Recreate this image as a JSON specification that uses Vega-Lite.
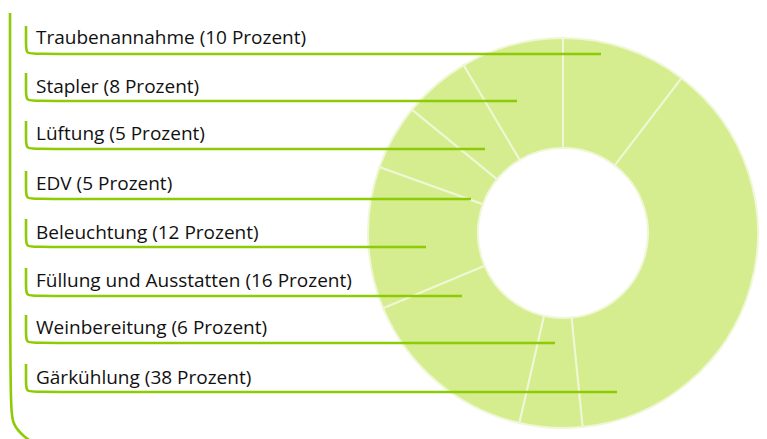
{
  "$schema": "https://vega.github.io/schema/vega-lite/v6.json",
  "width": 767,
  "height": 439,
  "autosize": {"type": "fit", "contains": "padding"},
  "padding": 0,
  "background": "white",
  "config": {"view": {"stroke": null}},
  "datasets": {
    "slices": [
      {"kategorie": "Traubenannahme", "anteil": 10.4, "o": 1},
      {"kategorie": "Gärkühlung", "anteil": 38.0, "o": 2},
      {"kategorie": "Weinbereitung", "anteil": 5.2, "o": 3},
      {"kategorie": "Füllung und Ausstatten", "anteil": 15.1, "o": 4},
      {"kategorie": "Beleuchtung", "anteil": 11.8, "o": 5},
      {"kategorie": "EDV", "anteil": 5.4, "o": 6},
      {"kategorie": "Lüftung", "anteil": 5.6, "o": 7},
      {"kategorie": "Stapler", "anteil": 8.5, "o": 8}
    ],
    "labels": [
      {"text": "Traubenannahme (10 Prozent)", "x": 36, "y": 44},
      {"text": "Stapler (8 Prozent)", "x": 36, "y": 93},
      {"text": "Lüftung (5 Prozent)", "x": 36, "y": 140},
      {"text": "EDV (5 Prozent)", "x": 36, "y": 190},
      {"text": "Beleuchtung (12 Prozent)", "x": 36, "y": 239},
      {"text": "Füllung und Ausstatten (16 Prozent)", "x": 36, "y": 287},
      {"text": "Weinbereitung (6 Prozent)", "x": 36, "y": 334},
      {"text": "Gärkühlung (38 Prozent)", "x": 36, "y": 384}
    ],
    "paths": [
      {"k": "a", "i": 0, "x": 26, "y": 26}, {"k": "a", "i": 1, "x": 26, "y": 44}, {"k": "a", "i": 2, "x": 26, "y": 54}, {"k": "a", "i": 3, "x": 36, "y": 54}, {"k": "a", "i": 4, "x": 601, "y": 54},
      {"k": "b", "i": 0, "x": 26, "y": 73}, {"k": "b", "i": 1, "x": 26, "y": 91}, {"k": "b", "i": 2, "x": 26, "y": 101}, {"k": "b", "i": 3, "x": 36, "y": 101}, {"k": "b", "i": 4, "x": 517, "y": 101},
      {"k": "c", "i": 0, "x": 26, "y": 121}, {"k": "c", "i": 1, "x": 26, "y": 139}, {"k": "c", "i": 2, "x": 26, "y": 149}, {"k": "c", "i": 3, "x": 36, "y": 149}, {"k": "c", "i": 4, "x": 485, "y": 149},
      {"k": "d", "i": 0, "x": 26, "y": 171}, {"k": "d", "i": 1, "x": 26, "y": 189}, {"k": "d", "i": 2, "x": 26, "y": 199}, {"k": "d", "i": 3, "x": 36, "y": 199}, {"k": "d", "i": 4, "x": 471, "y": 199},
      {"k": "e", "i": 0, "x": 26, "y": 219}, {"k": "e", "i": 1, "x": 26, "y": 237}, {"k": "e", "i": 2, "x": 26, "y": 247}, {"k": "e", "i": 3, "x": 36, "y": 247}, {"k": "e", "i": 4, "x": 426, "y": 247},
      {"k": "f", "i": 0, "x": 26, "y": 268}, {"k": "f", "i": 1, "x": 26, "y": 286}, {"k": "f", "i": 2, "x": 26, "y": 296}, {"k": "f", "i": 3, "x": 36, "y": 296}, {"k": "f", "i": 4, "x": 462, "y": 296},
      {"k": "g", "i": 0, "x": 26, "y": 315}, {"k": "g", "i": 1, "x": 26, "y": 333}, {"k": "g", "i": 2, "x": 26, "y": 343}, {"k": "g", "i": 3, "x": 36, "y": 343}, {"k": "g", "i": 4, "x": 555, "y": 343},
      {"k": "h", "i": 0, "x": 26, "y": 364}, {"k": "h", "i": 1, "x": 26, "y": 382}, {"k": "h", "i": 2, "x": 26, "y": 392}, {"k": "h", "i": 3, "x": 36, "y": 392}, {"k": "h", "i": 4, "x": 617, "y": 392},
      {"k": "z", "i": 0, "x": 10, "y": 13}, {"k": "z", "i": 1, "x": 10, "y": 400}, {"k": "z", "i": 2, "x": 12, "y": 425}, {"k": "z", "i": 3, "x": 24, "y": 437}, {"k": "z", "i": 4, "x": 44, "y": 450}
    ]
  },
  "layer": [
    {
      "data": {"name": "slices"},
      "mark": {"type": "arc", "radius": 195, "radius2": 85, "fill": "#d6ed8f", "stroke": "#eff7d6", "strokeWidth": 2},
      "encoding": {
        "theta": {"field": "anteil", "type": "quantitative", "stack": true},
        "order": {"field": "o", "type": "quantitative"},
        "x": {"datum": 563, "type": "quantitative", "scale": {"domain": [0, 767], "nice": false, "zero": false}, "axis": null},
        "y": {"datum": 233, "type": "quantitative", "scale": {"domain": [0, 439], "nice": false, "zero": false, "reverse": true}, "axis": null}
      }
    },
    {
      "data": {"name": "paths"},
      "mark": {"type": "line", "interpolate": "basis", "color": "#8dcc04", "strokeWidth": 2.6, "strokeCap": "butt", "clip": true},
      "encoding": {
        "x": {"field": "x", "type": "quantitative", "scale": {"domain": [0, 767], "nice": false, "zero": false}, "axis": null},
        "y": {"field": "y", "type": "quantitative", "scale": {"domain": [0, 439], "nice": false, "zero": false, "reverse": true}, "axis": null},
        "detail": {"field": "k", "type": "nominal"},
        "order": {"field": "i", "type": "quantitative"}
      }
    },
    {
      "data": {"name": "labels"},
      "mark": {"type": "text", "align": "left", "baseline": "alphabetic", "font": "Open Sans", "fontSize": 19, "color": "#111111"},
      "encoding": {
        "x": {"field": "x", "type": "quantitative", "scale": {"domain": [0, 767], "nice": false, "zero": false}, "axis": null},
        "y": {"field": "y", "type": "quantitative", "scale": {"domain": [0, 439], "nice": false, "zero": false, "reverse": true}, "axis": null},
        "text": {"field": "text", "type": "nominal"}
      }
    }
  ]
}
